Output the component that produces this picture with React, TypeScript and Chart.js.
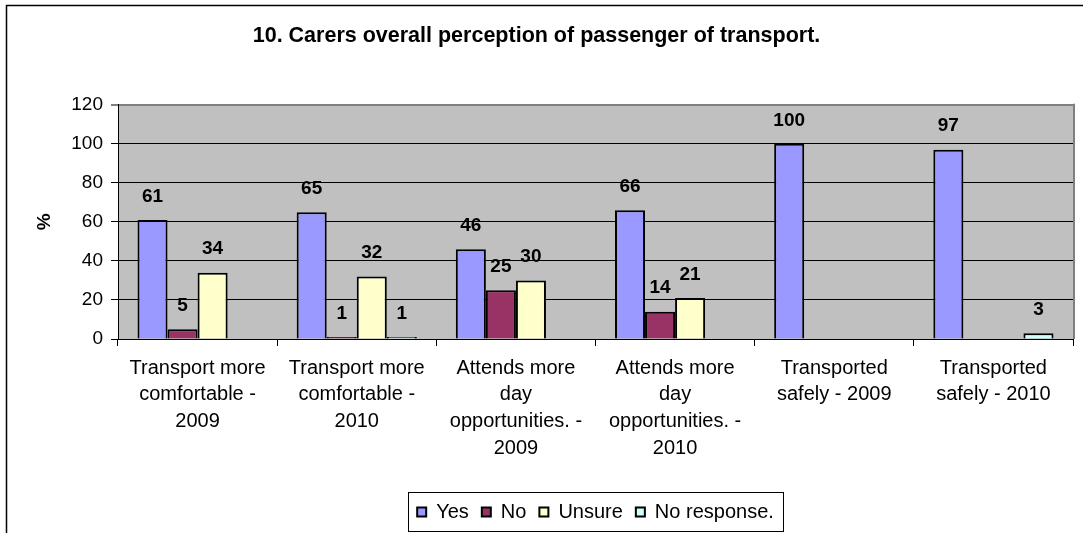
import React, { useEffect, useRef } from "react";
import { Chart, registerables } from "chart.js";

Chart.register(...registerables);

const FONT = '"Liberation Sans", Arial, sans-serif';

const chartTitle = "10. Carers overall perception of passenger of transport.";
const yAxisTitle = "%";

const categories: string[][] = [
  ["Transport more", "comfortable -", "2009"],
  ["Transport more", "comfortable -", "2010"],
  ["Attends more", "day", "opportunities. -", "2009"],
  ["Attends more", "day", "opportunities. -", "2010"],
  ["Transported", "safely - 2009"],
  ["Transported", "safely - 2010"],
];

const seriesNames = ["Yes", "No", "Unsure", "No response."];
const yesValues = [61, 65, 46, 66, 100, 97];
const noValues = [5, 1, 25, 14, null, null];
const unsureValues = [34, 32, 30, 21, null, null];
const noResponseValues = [null, 1, null, null, null, 3];
const seriesColors = ["#9999FF", "#993366", "#FFFFCC", "#CCFFFF"];

const yMin = 0;
const yMax = 120;
const yStep = 20;

const decorPlugin = {
  id: "decor",
  beforeDraw(chart: any) {
    const { ctx, chartArea: a } = chart;
    ctx.save();
    ctx.fillStyle = "#C0C0C0";
    ctx.fillRect(a.left, a.top, a.right - a.left, a.bottom - a.top);
    ctx.restore();
  },
  afterDatasetsDraw(chart: any) {
    const { ctx } = chart;
    ctx.save();
    ctx.font = `bold 19px ${FONT}`;
    ctx.fillStyle = "#000";
    ctx.textAlign = "center";
    ctx.textBaseline = "middle";
    chart.data.datasets.forEach((ds: any, i: number) => {
      const meta = chart.getDatasetMeta(i);
      meta.data.forEach((bar: any, j: number) => {
        const v = ds.data[j];
        if (v === null || v === undefined) return;
        ctx.fillText(String(v), bar.x, bar.y - 23.5);
      });
    });
    ctx.restore();
  },
  afterDraw(chart: any) {
    const { ctx, chartArea: a } = chart;
    ctx.save();
    // plot area right border
    ctx.strokeStyle = "#808080";
    ctx.lineWidth = 2;
    ctx.beginPath();
    ctx.moveTo(Math.round(a.right) + 1, a.top - 1);
    ctx.lineTo(Math.round(a.right) + 1, a.bottom);
    ctx.stroke();
    // outer chart border
    ctx.strokeStyle = "#000";
    ctx.lineWidth = 1.5;
    ctx.strokeRect(6.5, 5.5, 1200, 700);
    // legend border
    const legend = chart.legend;
    if (legend && legend.legendHitBoxes && legend.legendHitBoxes.length) {
      const hb = legend.legendHitBoxes;
      const left = Math.min(...hb.map((h: any) => h.left)) - 9;
      const right = Math.max(...hb.map((h: any) => h.left + h.width)) + 9;
      const cy = hb[0].top + hb[0].height / 2;
      ctx.lineWidth = 1;
      ctx.strokeRect(Math.round(left) + 0.5, Math.round(cy - 20) + 0.5, Math.round(right - left), 39);
    }
    ctx.restore();
  },
};

export default function App() {
  const canvasRef = useRef<HTMLCanvasElement | null>(null);

  useEffect(() => {
    if (!canvasRef.current) return;
    const valueSets = [yesValues, noValues, unsureValues, noResponseValues];
    const chart = new Chart(canvasRef.current, {
      type: "bar",
      data: {
        labels: categories,
        datasets: seriesNames.map((name, i) => ({
          label: name,
          data: valueSets[i],
          backgroundColor: seriesColors[i],
          borderColor: "#000",
          borderWidth: 2,
          categoryPercentage: 0.755,
          barPercentage: 1,
        })),
      },
      options: {
        animation: false,
        responsive: true,
        maintainAspectRatio: false,
        layout: { padding: { left: 0, right: 10, top: 0, bottom: 1 } },
        plugins: {
          title: {
            display: true,
            text: chartTitle,
            color: "#000",
            font: { family: FONT, size: 21.5, weight: "bold" },
            padding: { top: 23, bottom: 56 },
          },
          legend: {
            display: true,
            position: "bottom",
            fullSize: false,
            labels: {
              color: "#000",
              font: { family: FONT, size: 20 },
              boxWidth: 9,
              boxHeight: 9,
              padding: 13,
            },
          },
          tooltip: { enabled: false },
        },
        scales: {
          x: {
            offset: true,
            grid: {
              display: true,
              drawOnChartArea: false,
              drawTicks: true,
              tickLength: 7,
              color: "#000",
              offset: true,
            },
            border: { display: true, color: "#000", width: 1 },
            ticks: {
              color: "#000",
              font: { family: FONT, size: 20, lineHeight: 1.33 },
              padding: 9,
              maxRotation: 0,
              minRotation: 0,
              autoSkip: false,
            },
            afterFit(scale: any) {
              scale.height = 150;
            },
          },
          y: {
            min: yMin,
            max: yMax,
            ticks: {
              stepSize: yStep,
              color: "#000",
              font: { family: FONT, size: 19 },
              padding: 8,
            },
            grid: {
              color: (c: any) => (c.tick && c.tick.value === yMax ? "#808080" : "#000"),
              lineWidth: (c: any) => (c.tick && c.tick.value === yMax ? 2 : 1),
              tickColor: "#000",
              tickLength: 7,
              tickWidth: 1,
            },
            border: { display: true, color: "#000", width: 1 },
            title: {
              display: true,
              text: yAxisTitle,
              color: "#000",
              font: { family: FONT, size: 19, weight: "bold" },
              padding: { top: 33, bottom: 0 },
            },
            afterFit(scale: any) {
              scale.width = 118;
            },
          },
        },
      },
      plugins: [decorPlugin],
    } as any);
    return () => chart.destroy();
  }, []);

  return (
    <div style={{ position: "absolute", left: 0, top: 0, width: 1083, height: 533 }}>
      <canvas ref={canvasRef} />
    </div>
  );
}
